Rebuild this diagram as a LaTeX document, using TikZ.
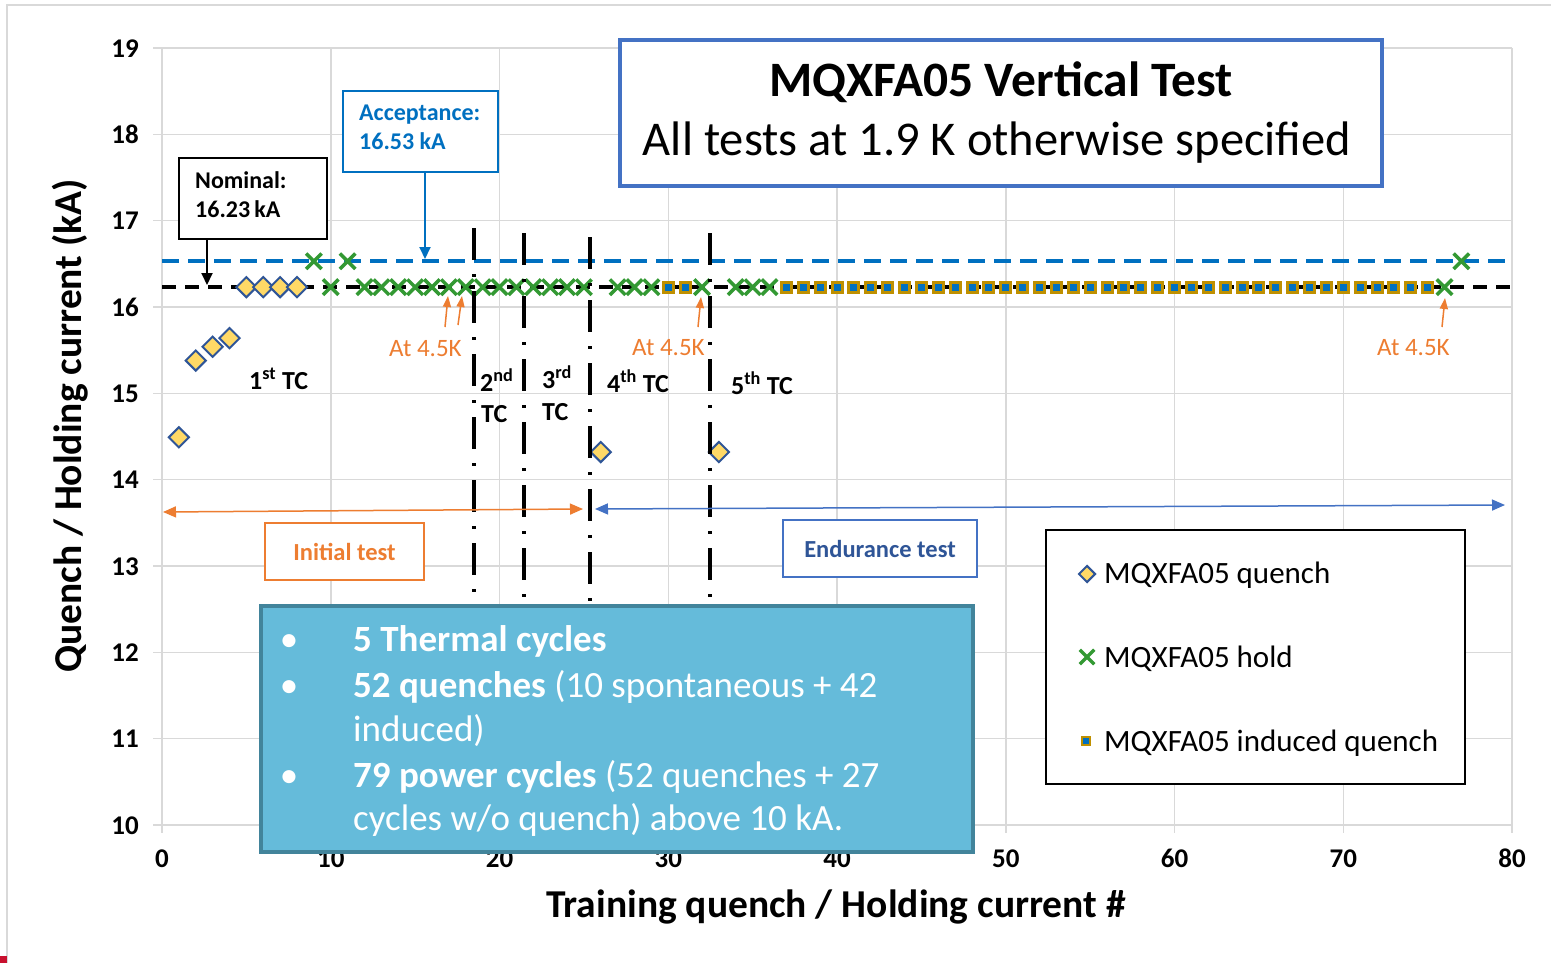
\documentclass[tikz,border=0pt]{standalone}
\usepackage{fontspec}
\setmainfont{Carlito}
\usetikzlibrary{arrows.meta,shapes.geometric,shapes.misc}

\definecolor{gridgray}{HTML}{D9D9D9}
\definecolor{accblue}{HTML}{0070C0}
\definecolor{boxblue}{HTML}{4472C4}
\definecolor{darkblue}{HTML}{2F5597}
\definecolor{orangeA}{HTML}{ED7D31}
\definecolor{holdgreen}{HTML}{339933}
\definecolor{diafill}{HTML}{FFD966}
\definecolor{diaedge}{HTML}{2F5597}
\definecolor{sqedge}{HTML}{BF9000}
\definecolor{infofill}{HTML}{65BBDA}
\definecolor{infoedge}{HTML}{42849B}
\definecolor{markred}{HTML}{C8102E}

\tikzset{
  gridln/.style={draw=gridgray, line width=1.5pt},
  ticklab/.style={font=\fontsize{27}{32}\selectfont\bfseries, inner sep=0pt},
  annot/.style={font=\fontsize{26}{31}\selectfont\bfseries, inner sep=0pt, anchor=base west},
  calltext/.style={font=\fontsize{24}{29}\selectfont\bfseries, inner sep=0pt, anchor=base west},
  warmlab/.style={font=\fontsize{25}{30}\selectfont, text=orangeA, inner sep=0pt, anchor=base west},
  qmark/.style={diamond, draw=diaedge, fill=diafill, line width=2pt,
    minimum width=21pt, minimum height=21pt, inner sep=0pt},
  hmark/.style={cross out, draw=holdgreen, line width=3.5pt, minimum size=12pt, inner sep=0pt},
  smark/.style={rectangle, draw=sqedge, fill=accblue, line width=3pt, minimum size=10pt, inner sep=0pt},
  tcline/.style={black, line width=4pt, dash pattern=on 32pt off 14pt on 3pt off 14pt},
  whitebox/.style={rectangle, fill=white, inner sep=0pt},
  warmarrow/.style={orangeA, line width=1.5pt, -{Triangle[length=11pt,width=8pt]}},
  phasearrow/.style={line width=1.5pt, {Triangle[length=13pt,width=11pt]}-{Triangle[length=13pt,width=11pt]}},
  legtext/.style={font=\fontsize{31}{37}\selectfont, inner sep=0pt, anchor=base west},
  infotext/.style={font=\fontsize{37}{44}\selectfont, text=white, inner sep=0pt, anchor=base west},
  axtitle/.style={font=\fontsize{39.5}{47}\selectfont\bfseries, inner sep=0pt},
}

\begin{document}
\begin{tikzpicture}[x=1pt,y=-1pt]
\useasboundingbox (0,0) rectangle (1551,963);
\fill[white] (0,0) rectangle (1551,963);

% outer frame and corner mark
\draw[gridgray, line width=1.5pt] (7,963) -- (7,5) -- (1551,5);
\fill[markred] (0,956) rectangle (7,963);

% grid, ticks and tick labels
\foreach \i in {0,...,8}{
  \pgfmathsetmacro\gx{162+168.75*\i}
  \pgfmathtruncatemacro\lab{10*\i}
  \draw[gridln] (\gx,48) -- (\gx,833);
  \node[ticklab,anchor=base] (xt\i) at (\gx,867) {\lab};
}
\foreach \i in {0,...,9}{
  \pgfmathsetmacro\gy{825-86.333*\i}
  \pgfmathtruncatemacro\lab{10+\i}
  \draw[gridln] (153,\gy) -- (1512,\gy);
  \node[ticklab,anchor=base east] (yt\i) at (139,\gy+9) {\lab};
}

% axis titles
\node[axtitle, rotate=90] (ytitle) at (70,426) {Quench / Holding current (kA)};
\node[axtitle, anchor=base] (xtitle) at (836,917) {Training quench / Holding current \#};

% data area: x = quench number, y = current in kA
\begin{scope}[shift={(162,1688.33)},x=16.875pt,y=86.333pt]
  \coordinate (acc-l) at (0,16.53);
  \coordinate (acc-r) at (80,16.53);
  \coordinate (nom-l) at (0,16.23);
  \coordinate (nom-r) at (80,16.23);
  \draw[accblue, line width=4pt, dash pattern=on 17pt off 9pt] (acc-l) -- (acc-r);
  \draw[black, line width=3.5pt, dash pattern=on 14pt off 9pt] (nom-l) -- (nom-r);

  % induced quenches
  \foreach \xx [count=\k] in {30,31}
    \node[smark] (s\k) at (\xx,16.23) {};
  \foreach \xx [count=\k] in {37,...,75}
    \node[smark] (t\k) at (\xx,16.23) {};

  % holding current
  \foreach \xx/\yy [count=\k] in {9/16.53,10/16.23,11/16.53,12/16.23,13/16.23,14/16.23,
      15/16.23,16/16.23,17/16.23,18/16.23,19/16.23,20/16.23,21/16.23,22/16.23,23/16.23,
      24/16.23,25/16.23,27/16.23,28/16.23,29/16.23,32/16.23,34/16.23,35/16.23,36/16.23,
      76/16.23,77/16.53}
    \node[hmark] (h\k) at (\xx,\yy) {};

  % training quenches
  \foreach \xx/\yy [count=\k] in {1/14.49,2/15.38,3/15.54,4/15.64,5/16.23,6/16.23,
      7/16.23,8/16.23,26/14.32,33/14.32}
    \node[qmark] (q\k) at (\xx,\yy) {};
\end{scope}

% thermal cycle separators
\coordinate (tc2t) at (474,228); \coordinate (tc2b) at (474,598);
\coordinate (tc3t) at (524,233); \coordinate (tc3b) at (524,600);
\coordinate (tc4t) at (590,237); \coordinate (tc4b) at (590,603);
\coordinate (tc5t) at (710,233); \coordinate (tc5b) at (710,600);
\draw[tcline] (tc2t) -- (tc2b);
\draw[tcline] (tc3t) -- (tc3b);
\draw[tcline] (tc4t) -- (tc4b);
\draw[tcline] (tc5t) -- (tc5b);

% thermal cycle labels
\node[annot] (tc1) at (249,389) {1\textsuperscript{st} TC};
\node[annot] (tc2a) at (480,391) {2\textsuperscript{nd}};
\node[annot] (tc2b-l) at (481,422) {TC};
\node[annot] (tc3a) at (542,388) {3\textsuperscript{rd}};
\node[annot] (tc3b-l) at (542,420) {TC};
\node[annot] (tc4) at (607,392) {4\textsuperscript{th} TC};
\node[annot] (tc5) at (731,394) {5\textsuperscript{th} TC};

% runs at 4.5 K
\node[warmlab] (w1) at (389,356) {At 4.5K};
\node[warmlab] (w2) at (632,355) {At 4.5K};
\node[warmlab] (w3) at (1377,355) {At 4.5K};
\coordinate (w1a) at (445,327); \coordinate (w1h) at (448,296);
\coordinate (w1b) at (458,325); \coordinate (w1k) at (462,296);
\draw[warmarrow] (w1a) -- (w1h);
\draw[warmarrow] (w1b) -- (w1k);
\coordinate (w2a) at (698,327); \coordinate (w2h) at (701,297);
\draw[warmarrow] (w2a) -- (w2h);
\coordinate (w3a) at (1442,327); \coordinate (w3h) at (1445,298);
\draw[warmarrow] (w3a) -- (w3h);

% nominal and acceptance call-outs
\node[whitebox, draw=black, line width=2.5pt, minimum width=148pt, minimum height=81pt] (nom) at (253,198.5) {};
\node[calltext] (nomt1) at (195,189) {Nominal:};
\node[calltext] (nomt2) at (195,218) {16.23\,kA};
\coordinate (nomtip) at (207,285);
\draw[black, line width=2pt, -{Triangle[length=12pt,width=11pt]}] (nom.south -| nomtip) -- (nomtip);

\node[whitebox, draw=accblue, line width=2.5pt, minimum width=155pt, minimum height=81pt] (acc) at (420.5,131.5) {};
\node[calltext, text=accblue] (acct1) at (359,121) {Acceptance:};
\node[calltext, text=accblue] (acct2) at (359,150) {16.53 kA};
\coordinate (acctip) at (425,259);
\draw[accblue, line width=2pt, -{Triangle[length=12pt,width=11pt]}] (acc.south -| acctip) -- (acctip);

% test phases
\coordinate (ini-l) at (163,512); \coordinate (ini-r) at (583,509);
\draw[phasearrow, orangeA] (ini-l) -- (ini-r);
\coordinate (end-l) at (595,509); \coordinate (end-r) at (1505,505);
\draw[phasearrow, boxblue] (end-l) -- (end-r);
\node[whitebox, draw=orangeA, line width=2pt, minimum width=159pt, minimum height=57pt,
  font=\fontsize{24.5}{29}\selectfont\bfseries, text=orangeA] (ini) at (344.5,551.5) {Initial test};
\node[whitebox, draw=boxblue, line width=2pt, minimum width=194pt, minimum height=57pt,
  font=\fontsize{24.5}{29}\selectfont\bfseries, text=darkblue] (endu) at (880,548.5) {Endurance test};

% legend
\node[whitebox, draw=black, line width=2pt, minimum width=419pt, minimum height=254pt] (leg) at (1255.5,657) {};
\node[qmark, minimum width=17pt, minimum height=17pt] (lq) at (1087,574) {};
\node[hmark, minimum size=11pt] (lh) at (1087,657) {};
\node[smark, minimum size=8pt, line width=2.5pt] (ls) at (1086,741) {};
\node[legtext] (lqt) at (1104,583) {MQXFA05 quench};
\node[legtext] (lht) at (1104,667) {MQXFA05 hold};
\node[legtext] (lst) at (1104,751) {MQXFA05 induced quench};

% summary box
\node[rectangle, fill=infofill, draw=infoedge, line width=4.5pt, minimum width=712pt, minimum height=246pt, inner sep=0pt]
  (info) at (617,729) {};
\node[infotext, anchor=base] (b1) at (289,651) {•};
\node[infotext, anchor=base] (b2) at (289,697) {•};
\node[infotext, anchor=base] (b3) at (289,787) {•};
\node[infotext] (i1) at (353,651) {\textbf{5 Thermal cycles}};
\node[infotext] (i2) at (353,697) {\textbf{52 quenches} (10 spontaneous + 42};
\node[infotext] (i3) at (353,741) {induced)};
\node[infotext] (i4) at (353,787) {\textbf{79 power cycles} (52 quenches + 27};
\node[infotext] (i5) at (353,830) {cycles w/o quench) above 10 kA.};

% title box
\node[whitebox, draw=boxblue, line width=4pt, minimum width=762pt, minimum height=146pt] (title) at (1001,113) {};
\node[font=\fontsize{49.5}{58}\selectfont\bfseries, anchor=base, inner sep=0pt] (title1) at (1001,97) {MQXFA05 Vertical Test};
\node[font=\fontsize{48.5}{57}\selectfont, anchor=base, inner sep=0pt] (title2) at (997,156) {All tests at 1.9 K otherwise specified};
\end{tikzpicture}
\end{document}
